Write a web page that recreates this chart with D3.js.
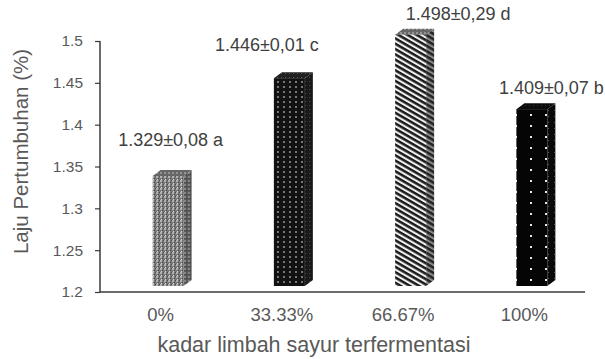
<!DOCTYPE html>
<html>
<head>
<meta charset="utf-8">
<script src="https://cdn.jsdelivr.net/npm/d3@7"></script>
<style>
  html, body { margin: 0; padding: 0; background: #fff; }
  svg { display: block; font-family: "Liberation Sans", Arial, sans-serif; }
</style>
</head>
<body>
<svg id="chart" width="605" height="359"></svg>
<script>
// Growth rate by level of fermented vegetable waste
const categories = ["0%", "33.33%", "66.67%", "100%"];
const values = [1.329, 1.446, 1.498, 1.409];
const errors = ["0,08", "0,01", "0,29", "0,07"];
const letters = ["a", "c", "d", "b"];
const yTicks = [1.2, 1.25, 1.3, 1.35, 1.4, 1.45, 1.5];
const yTitle = "Laju Pertumbuhan (%)";
const xTitle = "kadar limbah sayur terfermentasi";

// label placement relative to each bar's band centre and value height
const labelShift = [[10, -38], [-15, -35], [55, -23], [27, -23]];

const svg = d3.select("#chart");
const plot = { left: 100, right: 585, top: 41, bottom: 292 };

const x = d3.scaleBand().domain(categories).range([plot.left, plot.right]).padding(0);
const y = d3.scaleLinear().domain([1.2, 1.5]).range([plot.bottom, plot.top]);

// fill patterns for the faces of the 3D columns
const defs = svg.append("defs");
function pattern(id, w, h, bg, draw) {
  const p = defs.append("pattern").attr("id", id)
    .attr("patternUnits", "userSpaceOnUse").attr("width", w).attr("height", h);
  p.append("rect").attr("width", w).attr("height", h).attr("fill", bg);
  draw(p);
  return p;
}
function dots(p, list, fill) {
  list.forEach(([cx, cy, s]) => p.append("rect").attr("x", cx).attr("y", cy)
    .attr("width", s || 1).attr("height", s || 1).attr("fill", fill));
}

// 0%: grey speckle
pattern("f0", 4, 4, "#777", p => {
  dots(p, [[0, 0, 2]], "#b0b0b0");
  dots(p, [[2, 2, 1], [3, 0, 1]], "#4a4a4a");
  dots(p, [[1, 3, 1]], "#d8d8d8");
});
pattern("s0", 4, 4, "#5a5a5a", p => {
  dots(p, [[0, 0, 2]], "#858585");
  dots(p, [[2, 2, 1]], "#3a3a3a");
});
pattern("t0", 4, 4, "#666", p => {
  dots(p, [[0, 0, 2]], "#929292");
});

// 33.33%: black with grey dot grid
pattern("f1", 6, 5, "#121212", p => {
  dots(p, [[1, 1, 2]], "#777");
});
pattern("s1", 4, 4, "#1a1a1a", p => {
  dots(p, [[1, 1, 1]], "#4a4a4a");
});
pattern("t1", 4, 4, "#202020", p => {
  dots(p, [[1, 1, 1]], "#5a5a5a");
});

// 66.67%: wide downward diagonal stripes
pattern("f2", 4.6, 4.6, "#f0f0f0", p => {
  p.attr("patternTransform", "rotate(30)");
  p.append("rect").attr("width", 4.6).attr("height", 2.5).attr("fill", "#1a1a1a");
});
pattern("s2", 4.6, 4.6, "#8a8a8a", p => {
  p.attr("patternTransform", "rotate(30)");
  p.append("rect").attr("width", 4.6).attr("height", 2.5).attr("fill", "#222");
});
pattern("t2", 4, 4, "#666", p => {
  dots(p, [[0, 0, 2]], "#959595");
});

// 100%: black with sparse white dots
pattern("f3", 15, 11, "#050505", p => {
  dots(p, [[5, 4, 2]], "#e8e8e8");
});
pattern("s3", 6, 6, "#0a0a0a", p => {
  dots(p, [[2, 2, 1]], "#555");
});
pattern("t3", 4, 4, "#0c0c0c", p => {
  dots(p, [[1, 1, 1]], "#333");
});

// axes
const axisColor = "#3a3a3a";
const yAxis = svg.append("g").attr("transform", `translate(${plot.left},0)`)
  .call(d3.axisLeft(y).tickValues(yTicks).tickSize(5).tickPadding(12)
    .tickFormat(d => String(+d.toFixed(2))));
yAxis.select(".domain").attr("stroke", axisColor).attr("stroke-width", 1.5)
  .attr("d", `M0,${plot.top}V${plot.bottom}`);
yAxis.selectAll(".tick line").attr("stroke", axisColor).attr("stroke-width", 1.2);
yAxis.selectAll(".tick text").attr("fill", "#595959").attr("font-size", 15.5)
  .attr("font-family", "Liberation Sans, Arial, sans-serif");

const xAxis = svg.append("g").attr("transform", `translate(0,${plot.bottom})`)
  .call(d3.axisBottom(x).tickSize(0).tickPadding(16));
xAxis.select(".domain").attr("stroke", axisColor).attr("stroke-width", 1.5)
  .attr("d", `M${plot.left},0H${plot.right}`);
xAxis.selectAll(".tick text").attr("fill", "#595959").attr("font-size", 18.5)
  .attr("font-family", "Liberation Sans, Arial, sans-serif");

// 3D columns
const frontW = 31, dx = 8, dy = -6, lift = 7;
const bars = svg.append("g").selectAll("g").data(values).join("g");
bars.each(function (v, i) {
  const g = d3.select(this);
  const cx = x(categories[i]) + x.bandwidth() / 2;
  const l = cx - 8, r = l + frontW;
  const b = y(1.2) - lift + 1, t = y(v) - lift - 1;
  // right side face
  g.append("path").attr("fill", `url(#s${i})`)
    .attr("d", `M${r},${b}L${r + dx},${b + dy}L${r + dx},${t + dy}L${r},${t}Z`);
  // top face
  g.append("path").attr("fill", `url(#t${i})`)
    .attr("d", `M${l},${t}L${l + dx},${t + dy}L${r + dx},${t + dy}L${r},${t}Z`);
  // front face
  g.append("rect").attr("x", l).attr("y", t).attr("width", frontW).attr("height", b - t)
    .attr("fill", `url(#f${i})`);
});

// value labels
svg.append("g").selectAll("text").data(values).join("text")
  .attr("x", (v, i) => x(categories[i]) + x.bandwidth() / 2 + labelShift[i][0])
  .attr("y", (v, i) => y(v) + labelShift[i][1])
  .attr("text-anchor", "middle")
  .attr("font-size", 18)
  .attr("fill", "#404040")
  .text((v, i) => `${v.toFixed(3)}±${errors[i]} ${letters[i]}`);

// axis titles
svg.append("text")
  .attr("transform", `translate(28,${(plot.top + plot.bottom) / 2 - 15}) rotate(-90)`)
  .attr("text-anchor", "middle").attr("font-size", 20.5).attr("fill", "#595959")
  .text(yTitle);
svg.append("text")
  .attr("x", 314).attr("y", 352)
  .attr("text-anchor", "middle").attr("font-size", 21.5).attr("fill", "#595959")
  .text(xTitle);
</script>
</body>
</html>
